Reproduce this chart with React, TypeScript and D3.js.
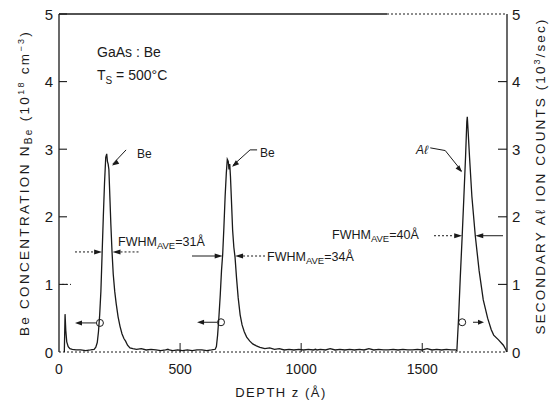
import React from "react";
import * as d3 from "d3";

// ---- data ----
const beDepth = [22,25,28,32,38,45,55,70,90,110,130,145,152,158,163,168,173,178,183,188,193,197,200,203,206,210,214,219,224,230,236,244,252,260,268,275,283,293,305,320,340,360,380,400,420,440,450,455,470,490,510,530,550,570,590,610,630,645,650,655,660,666,671,676,681,686,691,695,699,702,705,708,712,717,722,727,733,740,748,756,765,775,788,800,815,830,850,870,890,910,930,950,970,990,1010,1030,1050,1060,1065,1080,1100,1120,1140,1160,1180,1200,1220,1240,1260,1280,1300,1320,1340,1360,1380,1400,1420,1440,1460,1480,1500,1520,1540,1560,1580,1600,1620,1640];
const beConc = [0.0,0.56,0.32,0.15,0.08,0.05,0.04,0.03,0.03,0.02,0.03,0.04,0.07,0.14,0.3,0.55,0.9,1.45,2.0,2.5,2.88,2.93,2.82,2.78,2.7,2.3,1.9,1.48,1.15,0.9,0.72,0.52,0.38,0.27,0.2,0.16,0.1,0.06,0.05,0.04,0.05,0.03,0.04,0.03,0.02,0.03,0.04,0.03,0.02,0.03,0.02,0.03,0.02,0.03,0.03,0.02,0.03,0.04,0.08,0.25,0.5,0.85,1.2,1.45,1.85,2.3,2.65,2.85,2.82,2.7,2.78,2.6,2.25,1.8,1.55,1.4,1.1,0.8,0.55,0.4,0.3,0.22,0.16,0.12,0.09,0.07,0.05,0.06,0.04,0.05,0.03,0.04,0.03,0.04,0.03,0.04,0.03,0.04,0.03,0.04,0.03,0.05,0.03,0.04,0.03,0.04,0.03,0.04,0.03,0.05,0.03,0.04,0.03,0.03,0.04,0.03,0.04,0.03,0.03,0.04,0.03,0.05,0.03,0.04,0.03,0.04,0.03,0.03];
const alDepth = [1640,1643,1650,1657,1665,1672,1679,1684,1686,1689,1695,1705,1719,1735,1752,1770,1785,1795,1815,1835,1846,1848];
const alCounts = [0.03,0.02,0.5,1.1,1.72,2.3,2.9,3.4,3.48,3.3,2.9,2.3,1.72,1.2,0.77,0.5,0.33,0.25,0.18,0.1,0.03,0.0];

const xTicks = [0, 500, 1000, 1500];
const yTicks = [0, 1, 2, 3, 4, 5];

// FWHM markers: [left edge depth, right edge depth, level]
const fwhmBe1 = [178, 221, 1.48];
const fwhmBe2 = [676, 727, 1.42];
const fwhmAl = [1665, 1719, 1.72];

const W = 553, H = 405;
const FONT = "'Liberation Sans', Arial, Helvetica, sans-serif";
const INK = "#1a1a1a";

export default function App() {
  const x = d3.scaleLinear().domain([0, 1850]).range([59, 507]);
  const y = d3.scaleLinear().domain([0, 5]).range([352, 14]);
  const line = d3.line<[number, number]>().x(d => x(d[0])).y(d => y(d[1])).curve(d3.curveLinear);
  const bePts = beDepth.map((d, i) => [d, beConc[i]] as [number, number]);
  const alPts = alDepth.map((d, i) => [d, alCounts[i]] as [number, number]);

  const arrowHead = (xt: number, yt: number, dir: number, len = 8, hw = 2.5) =>
    `M${xt},${yt} L${xt - dir * len},${yt - hw} L${xt - dir * len},${yt + hw} Z`;

  const [b1l, b1r, b1y] = fwhmBe1;
  const [b2l, b2r, b2y] = fwhmBe2;
  const [all, alr, aly] = fwhmAl;

  return (
    <svg width={W} height={H} style={{ position: "absolute", left: 0, top: 0, background: "#fff" }}
      fontFamily={FONT}>
      <rect x={0} y={0} width={W} height={H} fill="#fff" />
      {/* frame */}
      <line x1={x(0)} x2={x(0)} y1={y(0)} y2={y(5)} stroke={INK} strokeWidth={1.3} />
      <line x1={x(1850)} x2={x(1850)} y1={y(0)} y2={y(5)} stroke={INK} strokeWidth={1.3} />
      <line x1={x(0)} x2={387} y1={y(5)} y2={y(5)} stroke={INK} strokeWidth={1.3} />
      <line x1={387} x2={x(1850)} y1={y(5)} y2={y(5)} stroke={INK} strokeWidth={1} strokeDasharray="2,2" />
      <line x1={x(0)} x2={x(1850)} y1={y(0)} y2={y(0)} stroke={INK} strokeWidth={1} strokeDasharray="2,2" />

      {/* y ticks left & right */}
      {yTicks.filter(t => t > 0).map(t => (
        <g key={"yt" + t}>
          <line x1={x(0)} x2={x(0) + 8} y1={y(t)} y2={y(t)} stroke={INK} strokeWidth={1.1} />
          {t < 5 && <line x1={x(1850)} x2={x(1850) - 9} y1={y(t)} y2={y(t)} stroke={INK} strokeWidth={1.1} />}
        </g>
      ))}
      {yTicks.map(t => (
        <g key={"yl" + t}>
          <text x={53} y={y(t) + 5.5} textAnchor="end" fontSize={15} fill={INK}>{t}</text>
          <text x={512} y={y(t) + 5.5} textAnchor="start" fontSize={15} fill={INK}>{t}</text>
        </g>
      ))}
      {/* x ticks */}
      {xTicks.map(t => (
        <g key={"xt" + t}>
          {t > 0 && <line x1={x(t)} x2={x(t)} y1={y(0)} y2={y(0) - 9} stroke={INK} strokeWidth={1} />}
          <text x={x(t)} y={374} textAnchor="middle" fontSize={14} fill={INK}>{t}</text>
        </g>
      ))}
      {/* axis titles */}
      <text x={281} y={397} textAnchor="middle" fontSize={13} letterSpacing={1.5} fill={INK}>DEPTH z (Å)</text>
      <text transform="translate(29,183) rotate(-90)" textAnchor="middle" fontSize={13.5} letterSpacing={2.3} fill={INK}>
        Be CONCENTRATION N<tspan fontSize={10} dy={3}>Be</tspan><tspan dy={-3}> (10</tspan><tspan fontSize={9} dy={-5}>18</tspan><tspan dy={5}> cm</tspan><tspan fontSize={9} dy={-5}>−3</tspan><tspan dy={5}>)</tspan>
      </text>
      <text transform="translate(545,176) rotate(-90)" textAnchor="middle" fontSize={13.5} letterSpacing={2.1} fill={INK}>
        SECONDARY Aℓ ION COUNTS (10<tspan fontSize={9} dy={-5}>3</tspan><tspan dy={5}>/sec)</tspan>
      </text>

      {/* data */}
      <path d={line(bePts) || ""} fill="none" stroke={INK} strokeWidth={1.3} />
      <path d={line(alPts) || ""} fill="none" stroke={INK} strokeWidth={1.3} />

      {/* sample annotation */}
      <text x={97} y={57} fontSize={14} fill={INK}>GaAs : Be</text>
      <text x={97} y={80} fontSize={14} fill={INK}>T<tspan fontSize={10} dy={4}>S</tspan><tspan dy={-4}> = 500°C</tspan></text>

      {/* peak labels with leaders */}
      <text x={x(322)} y={y(2.94) + 5} fontSize={12} fill={INK}>Be</text>
      <line x1={x(277)} y1={y(2.99)} x2={x(222)} y2={y(2.78)} stroke={INK} strokeWidth={1} />
      <path d={arrowHead(x(219), y(2.76), -1, 7, 2.5)} transform={`rotate(-33 ${x(219)} ${y(2.76)})`} fill={INK} />

      <text x={x(830)} y={y(2.96) + 5} fontSize={12} fill={INK}>Be</text>
      <polyline points={`${x(818)},${y(2.99)} ${x(789)},${y(2.99)} ${x(718)},${y(2.76)}`} fill="none" stroke={INK} strokeWidth={1} />
      <path d={arrowHead(x(715), y(2.74), -1, 7, 2.5)} transform={`rotate(-40 ${x(715)} ${y(2.74)})`} fill={INK} />

      <text x={416} y={y(3.0) + 5} fontSize={12} fontStyle="italic" fill={INK}>Aℓ</text>
      <polyline points={`${x(1533)},${y(3.02)} ${x(1595)},${y(2.98)} ${x(1662)},${y(2.68)}`} fill="none" stroke={INK} strokeWidth={1} />
      <path d={arrowHead(x(1664), y(2.66), 1, 7, 2.5)} transform={`rotate(50 ${x(1664)} ${y(2.66)})`} fill={INK} />

      {/* FWHM Be1 */}
      <line x1={75} x2={x(b1l) - 8} y1={y(b1y)} y2={y(b1y)} stroke={INK} strokeWidth={1} strokeDasharray="2,2" />
      <path d={arrowHead(x(b1l), y(b1y), 1)} fill={INK} />
      <path d={arrowHead(x(b1r), y(b1y), -1)} fill={INK} />
      <line x1={x(b1r) + 8} x2={140} y1={y(b1y)} y2={y(b1y)} stroke={INK} strokeWidth={1} strokeDasharray="2,2" />
      <text x={118} y={246} fontSize={12.5} fill={INK}>FWHM<tspan fontSize={9.5} dy={3}>AVE</tspan><tspan dy={-3}>=31Å</tspan></text>

      {/* FWHM Be2 */}
      <line x1={192} x2={x(b2l) - 6} y1={y(b2y)} y2={y(b2y)} stroke={INK} strokeWidth={1} />
      <path d={arrowHead(x(b2l), y(b2y), 1)} fill={INK} />
      <path d={arrowHead(x(b2r), y(b2y), -1)} fill={INK} />
      <line x1={x(b2r) + 8} x2={265} y1={y(b2y)} y2={y(b2y)} stroke={INK} strokeWidth={1} strokeDasharray="2,2" />
      <text x={267} y={261} fontSize={12.5} fill={INK}>FWHM<tspan fontSize={9.5} dy={3}>AVE</tspan><tspan dy={-3}>=34Å</tspan></text>

      {/* FWHM Al */}
      <line x1={434} x2={x(all) - 8} y1={y(aly)} y2={y(aly)} stroke={INK} strokeWidth={1} strokeDasharray="2,2" />
      <path d={arrowHead(x(all), y(aly), 1)} fill={INK} />
      <path d={arrowHead(x(alr), y(aly), -1)} fill={INK} />
      <line x1={x(alr) + 6} x2={503} y1={y(aly)} y2={y(aly)} stroke={INK} strokeWidth={1} />
      <text x={332} y={239} fontSize={12.5} fill={INK}>FWHM<tspan fontSize={9.5} dy={3}>AVE</tspan><tspan dy={-3}>=40Å</tspan></text>

      {/* axis-pointer circles */}
      <circle cx={x(169)} cy={y(0.43)} r={3.5} fill="none" stroke={INK} strokeWidth={1} />
      <line x1={x(169) - 4} x2={x(66) + 6} y1={y(0.43)} y2={y(0.43)} stroke={INK} strokeWidth={1} />
      <path d={arrowHead(x(66), y(0.43), -1, 7, 2.5)} fill={INK} />

      <circle cx={x(669)} cy={y(0.44)} r={3.5} fill="none" stroke={INK} strokeWidth={1} />
      <line x1={x(669) - 4} x2={x(570) + 6} y1={y(0.44)} y2={y(0.44)} stroke={INK} strokeWidth={1} />
      <path d={arrowHead(x(570), y(0.44), -1, 7, 2.5)} fill={INK} />

      <circle cx={x(1665)} cy={y(0.44)} r={3.5} fill="none" stroke={INK} strokeWidth={1} />
      <line x1={473} x2={480} y1={y(0.44)} y2={y(0.44)} stroke={INK} strokeWidth={1} />
      <path d={arrowHead(484, y(0.44), 1, 6, 2.5)} fill={INK} />

      {/* short dotted level marks at left axis */}
      <line x1={x(0) + 3} x2={x(0) + 12} y1={y(1)} y2={y(1)} stroke={INK} strokeWidth={1} strokeDasharray="2,2" />
    </svg>
  );
}
